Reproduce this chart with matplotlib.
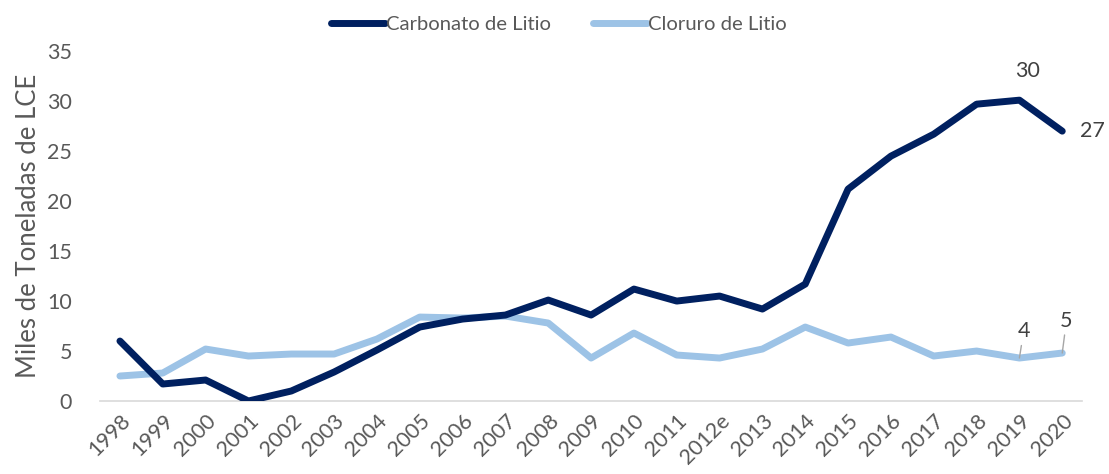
import matplotlib
matplotlib.use("Agg")
import matplotlib.pyplot as plt

years = ["1998", "1999", "2000", "2001", "2002", "2003", "2004", "2005", "2006", "2007",
         "2008", "2009", "2010", "2011", "2012e", "2013", "2014", "2015", "2016", "2017",
         "2018", "2019", "2020"]
carbonato = [6.0, 1.7, 2.1, 0.0, 1.0, 2.9, 5.1, 7.4, 8.2, 8.6, 10.1, 8.6, 11.2, 10.0, 10.5,
             9.2, 11.7, 21.2, 24.5, 26.7, 29.7, 30.1, 27.0]
cloruro = [2.5, 2.8, 5.2, 4.5, 4.7, 4.7, 6.2, 8.4, 8.3, 8.5, 7.8, 4.3, 6.8, 4.6, 4.3,
           5.2, 7.4, 5.8, 6.4, 4.5, 5.0, 4.3, 4.8]
yticks = [0, 5, 10, 15, 20, 25, 30, 35]

plt.rcParams['font.family'] = ['Lato', 'DejaVu Sans']
txt = '#595959'
dark = '#002060'
light = '#9DC3E6'

fig = plt.figure(figsize=(11.09, 4.74), dpi=100)
ax = fig.add_axes([0.090, 0.154, 0.886, 0.738])
x = list(range(len(years)))
ax.plot(x, carbonato, color=dark, lw=5, solid_capstyle='round', solid_joinstyle='round',
        label='Carbonato de Litio', zorder=3)
ax.plot(x, cloruro, color=light, lw=5, solid_capstyle='round', solid_joinstyle='round',
        label='Cloruro de Litio', zorder=2)

ax.set_xlim(-0.47, len(years) - 1 + 0.47)
ax.set_ylim(0, 35)
ax.set_yticks(yticks)
ax.set_xticks(x)
ax.set_xticklabels(years, rotation=45, ha='right', rotation_mode='anchor')
ax.tick_params(axis='both', length=0, labelsize=15.5, colors=txt)
ax.tick_params(axis='x', pad=7)
ax.tick_params(axis='y', pad=20)
for s in ['top', 'right', 'left']:
    ax.spines[s].set_visible(False)
ax.spines['bottom'].set_color('#D9D9D9')
ax.spines['bottom'].set_linewidth(1.2)
ax.set_ylabel('Miles de Toneladas de LCE', fontsize=18.5, color=txt, labelpad=4)

# data labels
lab = '#404040'
ax.annotate(f"{carbonato[21]:.0f}", (21, carbonato[21]), xytext=(6, 14), textcoords='offset points',
            ha='center', va='bottom', fontsize=15.5, color=lab)
ax.annotate(f"{carbonato[22]:.0f}", (22, carbonato[22]), xytext=(13, 0), textcoords='offset points',
            ha='left', va='center', fontsize=15.5, color=lab)
ax.annotate(f"{cloruro[21]:.0f}", (21, cloruro[21]), xytext=(3, 12), textcoords='offset points',
            ha='center', va='bottom', fontsize=15.5, color=lab,
            arrowprops=dict(arrowstyle='-', color='#A6A6A6', lw=1, shrinkA=1, shrinkB=0))
ax.annotate(f"{cloruro[22]:.0f}", (22, cloruro[22]), xytext=(3, 16), textcoords='offset points',
            ha='center', va='bottom', fontsize=15.5, color=lab,
            arrowprops=dict(arrowstyle='-', color='#A6A6A6', lw=1, shrinkA=1, shrinkB=0))

leg = fig.legend(loc='upper center', bbox_to_anchor=(0.504, 1.005), ncol=2, frameon=False,
                 fontsize=14.6, handlelength=2.65, handletextpad=0.05, columnspacing=2.1)
for t in leg.get_texts():
    t.set_color(txt)

fig.savefig('out.png', dpi=100)
